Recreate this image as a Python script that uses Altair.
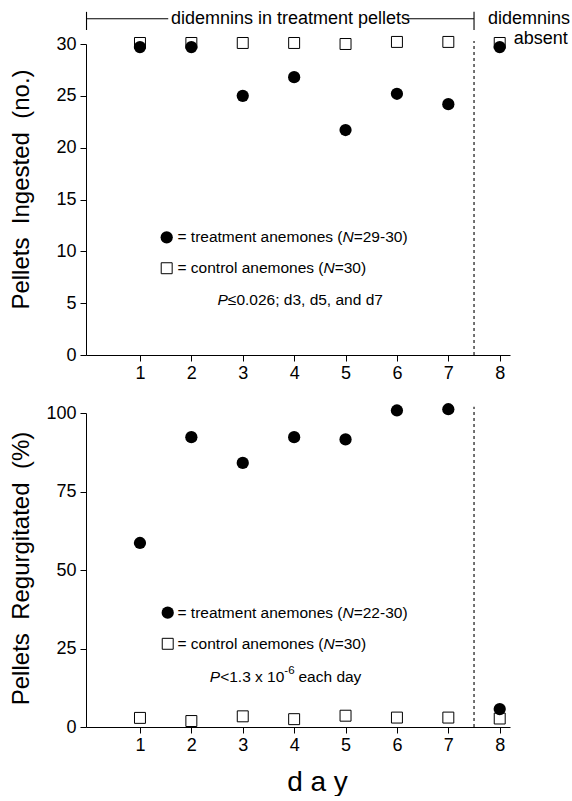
import altair as alt
import pandas as pd

# ---------------- data ----------------
days = [1, 2, 3, 4, 5, 6, 7, 8]
ingested_treatment = [29.7, 29.7, 25.0, 26.8, 21.7, 25.2, 24.2, 29.7]
ingested_control = [30.1, 30.1, 30.1, 30.1, 30.0, 30.2, 30.2, 30.1]
regurg_treatment = [58.6, 92.3, 84.1, 92.3, 91.6, 100.8, 101.2, 5.7]
regurg_control = [2.9, 1.9, 3.4, 2.5, 3.6, 3.0, 3.0, 2.7]

top_ticks = [0, 5, 10, 15, 20, 25, 30]
bottom_ticks = [0, 25, 50, 75, 100]
day_ticks = [1, 2, 3, 4, 5, 6, 7, 8]

FONT = "Liberation Sans"
XDOM = [-0.05, 8.2]
W = 424
H_TOP = 311
H_BOT = 314
LEG = 15.5
SP = "\u00a0\u00a0"

xscale = alt.Scale(domain=XDOM, nice=False, zero=False)


def xaxis(title=None, **kw):
    return alt.Axis(values=day_ticks, title=title, grid=False, labelFontSize=18,
                    labelFont=FONT, labelPadding=3, tickSize=6, tickColor="black",
                    domainColor="black", labelColor="black", **kw)


def yaxis(vals, title, tx, ty):
    return alt.Axis(values=vals, title=title, grid=False, labelFontSize=18,
                    labelFont=FONT, labelPadding=4, tickSize=6, tickColor="black",
                    domainColor="black", labelColor="black", titleFont=FONT,
                    titleFontSize=24, titleFontWeight="normal", titleColor="black",
                    titleX=tx, titleY=ty, titleAngle=270, titleBaseline="middle",
                    titleAlign="center")


def text_layer(d, v, s, dx=0, dy=0, size=LEG, italic=False, align="left"):
    return alt.Chart(pd.DataFrame({"day": [d], "val": [v], "t": [s]})).mark_text(
        align=align, baseline="middle", font=FONT, fontSize=size, dx=dx, dy=dy,
        fontStyle="italic" if italic else "normal", color="black"
    ).encode(x=alt.X("day:Q", scale=xscale), y="val:Q", text="t:N")


def rule_layer(d, d2, v, v2, dash=None):
    kw = {"strokeDash": dash} if dash else {}
    return alt.Chart(pd.DataFrame({"day": [d], "day2": [d2], "val": [v], "val2": [v2]})).mark_rule(
        color="black", strokeWidth=1.1, **kw
    ).encode(x=alt.X("day:Q", scale=xscale), x2="day2:Q", y="val:Q", y2="val2:Q")


def marker(d, v, filled):
    df = pd.DataFrame({"day": [d], "val": [v]})
    if filled:
        m = alt.Chart(df).mark_circle(size=150, color="black", opacity=1)
    else:
        m = alt.Chart(df).mark_square(size=120, fill="white", stroke="black",
                                      strokeWidth=1, opacity=1, fillOpacity=1)
    return m.encode(x=alt.X("day:Q", scale=xscale), y="val:Q")


# ---------------- top panel ----------------
top_df = pd.DataFrame({"day": days, "ctrl": ingested_control, "treat": ingested_treatment})
yscale_top = alt.Scale(domain=[0, 30], nice=False, zero=True)

top_ctrl = alt.Chart(top_df).mark_square(
    size=120, fill="white", stroke="black", strokeWidth=1, opacity=1, fillOpacity=1
).encode(
    x=alt.X("day:Q", scale=xscale, axis=xaxis()),
    y=alt.Y("ctrl:Q", scale=yscale_top,
            axis=yaxis(top_ticks, "Pellets" + SP + "Ingested" + SP + "(no.)", -65, 145)),
)
top_treat = alt.Chart(top_df).mark_circle(size=150, color="black", opacity=1).encode(
    x=alt.X("day:Q", scale=xscale), y=alt.Y("treat:Q", scale=yscale_top)
)

top = alt.layer(
    top_ctrl,
    top_treat,
    rule_layer(7.5, 7.5, 0, 30.3, dash=[3, 3]),
    # header bracket
    rule_layer(-0.04, 1.55, 32.44, 32.44),
    rule_layer(6.2, 7.5, 32.44, 32.44),
    rule_layer(-0.04, -0.04, 31.35, 33.1),
    rule_layer(7.5, 7.5, 31.35, 33.1),
    text_layer(3.93, 32.44, "didemnins in treatment pellets", size=18, align="center"),
    text_layer(8.57, 32.44, "didemnins", size=18, align="center"),
    text_layer(8.80, 30.5, "absent", size=18, align="center"),
    # legend
    marker(1.52, 11.35, True),
    marker(1.52, 8.37, False),
    text_layer(1.73, 11.35, "= treatment anemones ("),
    text_layer(1.73, 11.35, "N", dx=165, italic=True),
    text_layer(1.73, 11.35, "=29-30)", dx=176.2),
    text_layer(1.73, 8.37, "= control anemones ("),
    text_layer(1.73, 8.37, "N", dx=146, italic=True),
    text_layer(1.73, 8.37, "=30)", dx=157.2),
    text_layer(2.51, 5.3, "P", italic=True),
    text_layer(2.51, 5.3, "≤0.026; d3, d5, and d7", dx=10.3),
).properties(width=W, height=H_TOP)

# ---------------- bottom panel ----------------
bot_df = pd.DataFrame({"day": days, "ctrl": regurg_control, "treat": regurg_treatment})
yscale_bot = alt.Scale(domain=[0, 100], nice=False, zero=True)

bot_ctrl = alt.Chart(bot_df).mark_square(
    size=120, fill="white", stroke="black", strokeWidth=1, opacity=1, fillOpacity=1
).encode(
    x=alt.X("day:Q", scale=xscale,
            axis=xaxis("d a y", titleFont=FONT, titleFontSize=28, titleFontWeight="normal",
                       titleColor="black", titleX=231, titleY=55, titleBaseline="middle",
                       titleAlign="center")),
    y=alt.Y("ctrl:Q", scale=yscale_bot,
            axis=yaxis(bottom_ticks, "Pellets" + SP + "Regurgitated" + SP + "(%)", -65, 155)),
)
bot_treat = alt.Chart(bot_df).mark_circle(size=150, color="black", opacity=1).encode(
    x=alt.X("day:Q", scale=xscale), y=alt.Y("treat:Q", scale=yscale_bot)
)

bottom = alt.layer(
    rule_layer(7.5, 7.5, 0, 102, dash=[3, 3]),
    bot_ctrl,
    bot_treat,
    marker(1.54, 36.4, True),
    marker(1.54, 26.5, False),
    text_layer(1.73, 36.4, "= treatment anemones ("),
    text_layer(1.73, 36.4, "N", dx=165, italic=True),
    text_layer(1.73, 36.4, "=22-30)", dx=176.2),
    text_layer(1.73, 26.5, "= control anemones ("),
    text_layer(1.73, 26.5, "N", dx=146, italic=True),
    text_layer(1.73, 26.5, "=30)", dx=157.2),
    text_layer(2.36, 15.9, "P", italic=True),
    text_layer(2.36, 15.9, "<1.3 x 10", dx=10.3),
    text_layer(2.36, 15.9, "-6", dx=74.5, dy=-6, size=11.5),
    text_layer(2.36, 15.9, "each day", dx=88.6),
).properties(width=W, height=H_BOT)

chart = alt.vconcat(top, bottom, spacing=21).properties(
    padding={"left": 9, "top": 9, "right": 0, "bottom": 0},
    background="white",
).configure_view(stroke=None)

chart.save("out.html", embed_options={"renderer": "svg", "actions": False})
